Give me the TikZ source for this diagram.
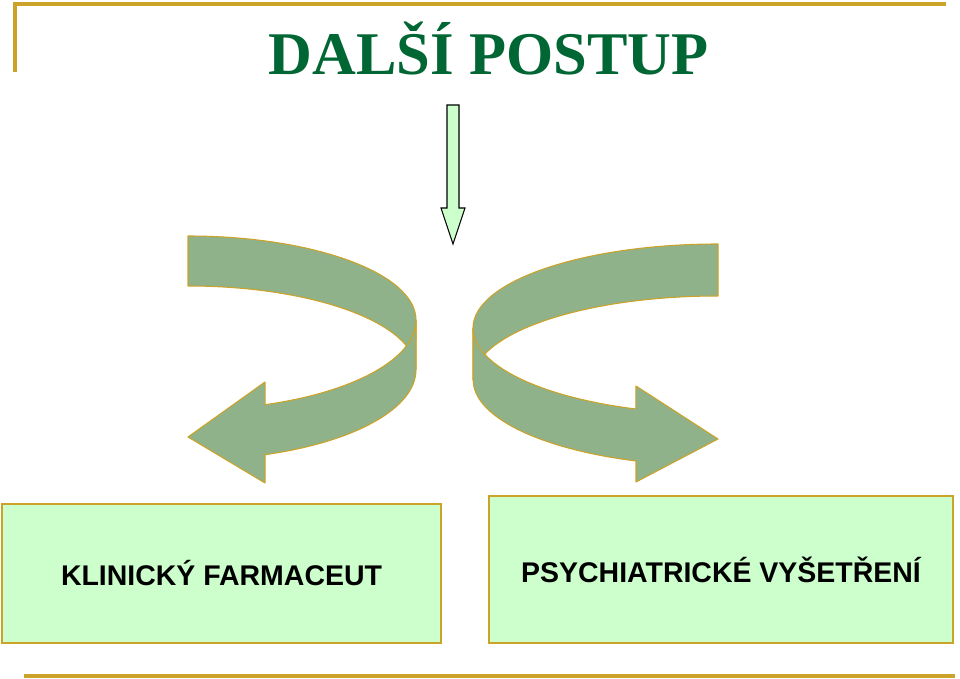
\documentclass[tikz,border=0pt]{standalone}
\usepackage{fontspec}
\setmainfont{Liberation Serif}
\setsansfont{Liberation Sans}
\usepackage{tikz}
\usetikzlibrary{positioning}
\definecolor{titlegreen}{RGB}{0,102,51}
\definecolor{framegold}{RGB}{204,163,41}
\definecolor{bandgreen}{RGB}{143,178,138}
\definecolor{boxgreen}{RGB}{204,255,204}

\begin{document}
\begin{tikzpicture}[x=0.02cm,y=0.02cm,
		frameline/.style={framegold, line width=1.8pt},%
		band/.style={fill=bandgreen, draw=framegold, line width=0.6pt, line join=round},%
		downarrow/.style={fill=boxgreen, draw=black, line width=0.6pt},%
		boxnode/.style={draw=framegold, fill=boxgreen, line width=0.8pt, inner sep=0pt,%
			font=\sffamily\bfseries\fontsize{16.2}{19}\selectfont}]
		\useasboundingbox (0,0) rectangle (960,679);
		% frame
		\draw[frameline] (15,607) -- (15,675) -- (946,675);
		\draw[frameline] (24,3) -- (955,3);
		% title
		\node[text=titlegreen, font=\bfseries\fontsize{34.5}{40}\selectfont, anchor=base] (title) at (488.5,604) {DALŠÍ POSTUP};
		% arrow down
		\path[downarrow] (447,574) -- (459,574) -- (459,471) -- (465,471) -- (453,435) -- (441,471) -- (447,471) -- cycle;
		% left turn
		\path[band] (188,443) arc[start angle=90, end angle=0, x radius=228, y radius=84] -- (416,309)
			arc[start angle=0, end angle=90, x radius=228, y radius=84] -- cycle;
		\path[band] (416,359) arc[start angle=0, end angle=-70.24, x radius=228, y radius=90]
			-- (265,297) -- (188,242) -- (265,196) -- (265,224.3)
			arc[start angle=-70.24, end angle=0, x radius=228, y radius=90] -- cycle;
		% right turn
		\path[band] (718,435) arc[start angle=90, end angle=180, x radius=245, y radius=84] -- (473,299)
			arc[start angle=180, end angle=90, x radius=245, y radius=84] -- cycle;
		\path[band] (473,351) arc[start angle=180, end angle=250.4, x radius=245, y radius=86]
			-- (636,293) -- (718,240) -- (636,197) -- (636,218)
			arc[start angle=250.4, end angle=180, x radius=245, y radius=86] -- cycle;
		% boxes
		\node[boxnode, minimum width=8.78cm, minimum height=2.78cm] (farmaceut) at (221.5,105.5) {KLINICKÝ FARMACEUT};
		\node[boxnode, minimum width=9.28cm, minimum height=2.94cm] (vysetreni) at (721,109.5) {PSYCHIATRICKÉ VYŠETŘENÍ};
	\end{tikzpicture}
\end{document}
